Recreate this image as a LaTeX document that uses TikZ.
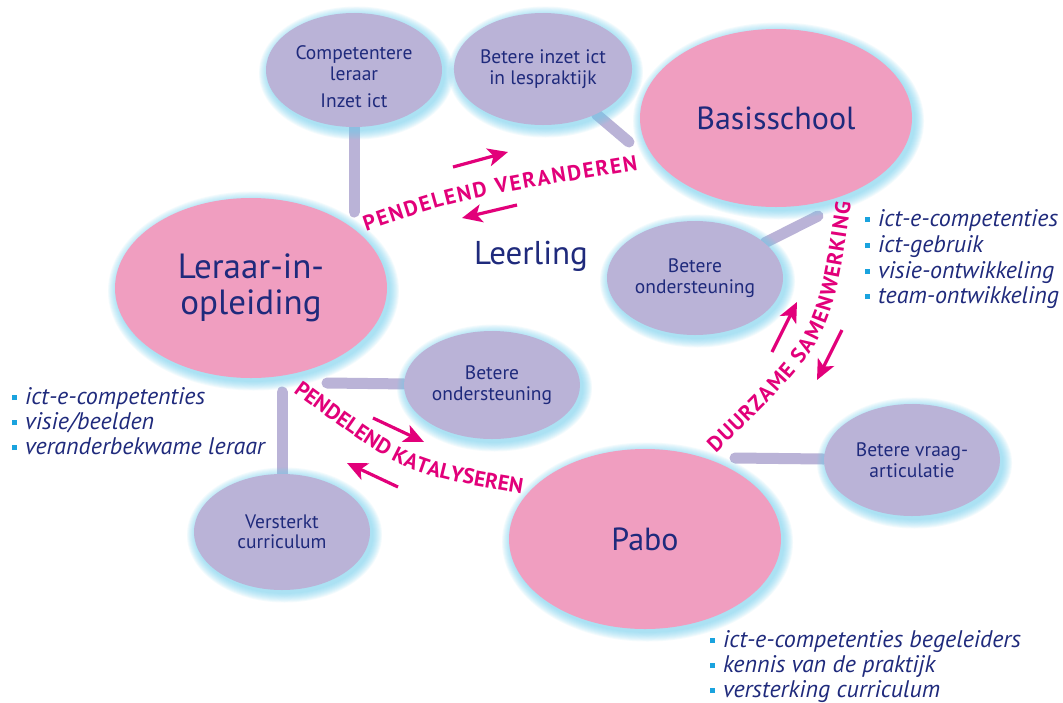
\documentclass[tikz,border=0pt]{standalone}
\usepackage{fontspec}
\setmainfont{PT Sans}
\usetikzlibrary{arrows.meta,decorations.text,shapes.geometric}
\definecolor{pinkc}{HTML}{F09EC0}
\definecolor{lavc}{HTML}{BAB3D7}
\definecolor{navyc}{HTML}{1F2A7C}
\definecolor{magc}{HTML}{E2007A}
\definecolor{bulc}{HTML}{1AA3DE}
\definecolor{glowc}{HTML}{6FD0F0}
\pgfdeclarelayer{bglayer}
\pgfdeclarelayer{connlayer}
\pgfdeclarelayer{glowlayer}
\pgfsetlayers{bglayer,connlayer,glowlayer,main}
\newcommand\pinkfont{\fontsize{21.5}{21.5}\selectfont\bfseries\color{magc}}
\newcommand\sqb{\textcolor{bulc}{\rule[4pt]{5pt}{5pt}}\hspace{8pt}}
\newcommand\glowell[4]{%
  \begin{pgfonlayer}{glowlayer}
  \foreach \gi in {1,...,10}{\fill[glowc,opacity=0.08] (#1+2.5,#2+3) ellipse ({#3+\gi*0.95} and {#4+\gi*0.95});}
  \end{pgfonlayer}}
\begin{document}
\begin{tikzpicture}[x=1pt,y=-1pt,
  bubble/.style={ellipse, fill=lavc, minimum width=176pt, minimum height=114pt, inner sep=0pt, align=center, text=navyc, font=\fontsize{19.5}{20.5}\selectfont},
  bigbubble/.style={ellipse, fill=pinkc, minimum width=272pt, minimum height=180pt, inner sep=0pt, align=center, text=navyc, font=\fontsize{32}{36}\selectfont},
  bubbletext/.style={inner sep=0pt, align=center, text=navyc, font=\fontsize{19.5}{20.5}\selectfont},
  link/.style={lavc, line width=11pt, line cap=round},
  flow/.style={magc, line width=3.2pt, -{Stealth[length=20pt,width=18pt,inset=5pt]}},
  bullet/.style={anchor=base west, inner sep=0pt, text=navyc, font=\fontsize{24}{25}\selectfont\itshape},
  pinktext/.style={decorate, decoration={text along path, text align={fit to path}, text={|\pinkfont|#1}}}
  ]
\begin{pgfonlayer}{bglayer}
\fill[white] (0,0) rectangle (1063,702);
\end{pgfonlayer}
\useasboundingbox (0,0) rectangle (1063,702);

% glows
\glowell{354}{70}{88}{57}
\glowell{543}{69}{88}{56}
\glowell{776}{118}{136}{89}
\glowell{251}{288}{136}{90}
\glowell{695}{278}{88}{57}
\glowell{492}{385}{88}{54}
\glowell{282}{532}{88}{58}
\glowell{645}{539}{136}{90}
\glowell{912}{460}{88}{56}

% ellipses
\node[bubble] (comp) at (354,70) {};
\node[bubbletext] (compt) at (354,77) {Competentere\\leraar\\[7pt]Inzet ict};
\node[bubble, minimum height=112pt] (inzet) at (543,69) {Betere inzet ict\\in lespraktijk};
\node[bigbubble, minimum height=178pt] (basis) at (776,118) {Basisschool};
\node[bigbubble, font=\fontsize{35}{36}\selectfont] (lio) at (251,288) {Leraar-in-\\opleiding};
\node[bubble] (bo1) at (695,278) {Betere\\ondersteuning};
\node[bubble, minimum height=108pt] (bo2) at (492,385) {Betere\\ondersteuning};
\node[bubble, minimum height=116pt] (vc) at (282,532) {Versterkt\\curriculum};
\node[bigbubble] (pabo) at (645,539) {Pabo};
\node[bubble, minimum height=112pt] (vraag) at (912,460) {Betere vraag-\\articulatie};

% connector ends
\coordinate (c1) at (354,212);
\coordinate (c2) at (629,142);
\coordinate (c3) at (818,216);
\coordinate (c4) at (327,383);
\coordinate (c5) at (282,392);
\coordinate (c6) at (735,458);
\begin{pgfonlayer}{connlayer}
\draw[link] (comp) -- (c1);
\draw[link] (inzet) -- (c2);
\draw[link] (bo1) -- (c3);
\draw[link] (bo2) -- (c4);
\draw[link] (vc) -- (c5);
\draw[link] (vraag) -- (c6);
\end{pgfonlayer}

% centre word
\node[anchor=base, inner sep=0pt, text=navyc, font=\fontsize{33}{36}\selectfont] (leer) at (531,264) {Leerling};

% pink curved labels
\path[pinktext={PENDELEND VERANDEREN}] (366,231) .. controls (460,199) .. (638,170);
\path[pinktext={PENDELEND KATALYSEREN}] (293,392) .. controls (405,474) .. (519,493);
\path[pinktext={DUURZAME SAMENWERKING}, decoration={raise=-7pt}] (711,448) .. controls (824,338) .. (844,202);

% arrows
\coordinate (a1s) at (453,167); \coordinate (a1e) at (508,152);
\coordinate (a2s) at (517,205); \coordinate (a2e) at (462,218);
\coordinate (a3s) at (373,418); \coordinate (a3e) at (424,442);
\coordinate (a4s) at (398,487); \coordinate (a4e) at (347,463);
\coordinate (a5s) at (772,352); \coordinate (a5e) at (797,302);
\coordinate (a6s) at (842,330); \coordinate (a6e) at (817,380);
\draw[flow] (a1s) -- (a1e);
\draw[flow] (a2s) -- (a2e);
\draw[flow] (a3s) -- (a3e);
\draw[flow] (a4s) -- (a4e);
\draw[flow] (a5s) -- (a5e);
\draw[flow] (a6s) -- (a6e);

% bullet lists
\node[bullet] (l1) at (12,404) {\sqb ict-e-competenties};
\node[bullet] (l2) at (12,429) {\sqb visie/beelden};
\node[bullet] (l3) at (12,454) {\sqb veranderbekwame leraar};
\node[bullet] (r1) at (865,226) {\sqb ict-e-competenties};
\node[bullet] (r2) at (865,252) {\sqb ict-gebruik};
\node[bullet] (r3) at (865,278) {\sqb visie-ontwikkeling};
\node[bullet] (r4) at (865,303) {\sqb team-ontwikkeling};
\node[bullet] (p1) at (710,647) {\sqb ict-e-competenties begeleiders};
\node[bullet] (p2) at (710,672) {\sqb kennis van de praktijk};
\node[bullet] (p3) at (710,697) {\sqb versterking curriculum};
\end{tikzpicture}
\end{document}
